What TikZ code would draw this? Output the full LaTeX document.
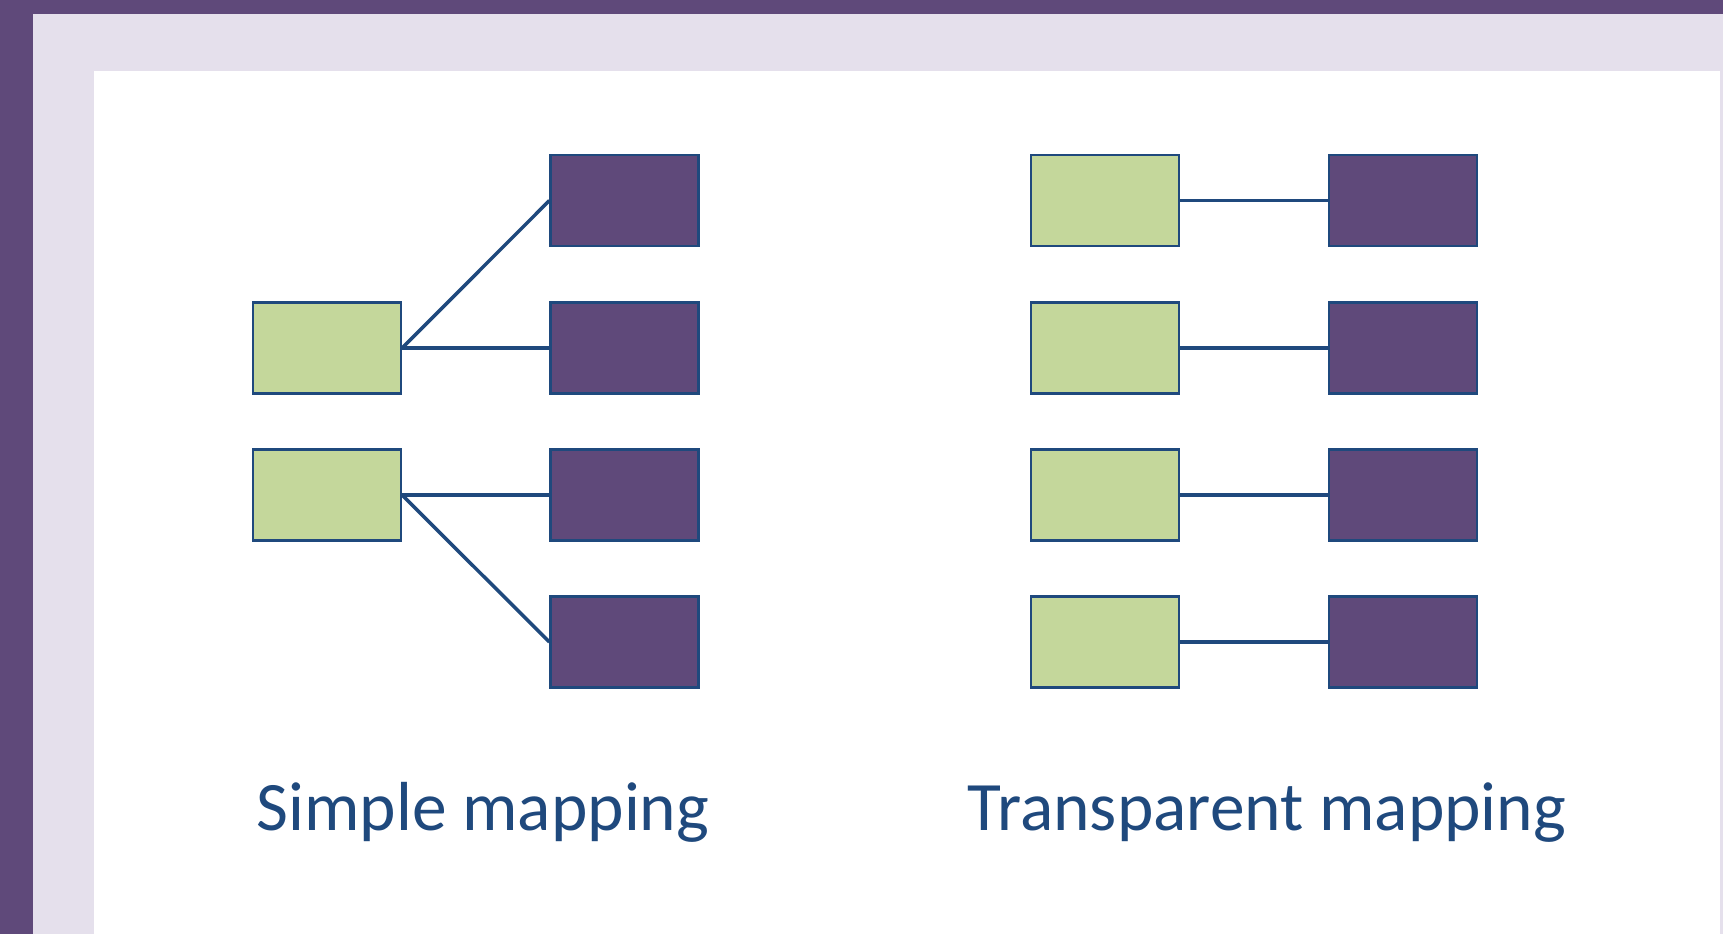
\documentclass[tikz,border=0pt]{standalone}
\usepackage{fontspec}
\setmainfont{Carlito}
\usepackage{xcolor}
\usepackage{tikz}
\usetikzlibrary{positioning}
\definecolor{framepurple}{RGB}{95, 73, 122}
\definecolor{framelilac}{RGB}{229, 224, 236}
\definecolor{srcgreen}{RGB}{196, 215, 155}
\definecolor{linkblue}{RGB}{31, 73, 125}

\begin{document}
\begin{tikzpicture}[x=0.02cm, y=-0.02cm,
    srcbox/.style={rectangle, draw=linkblue, line width=1.2pt, fill=srcgreen, minimum width=2.96cm, minimum height=1.82cm, inner sep=0pt},
    dstbox/.style={rectangle, draw=linkblue, line width=1.2pt, fill=framepurple, minimum width=2.96cm, minimum height=1.82cm, inner sep=0pt},
    link/.style={draw=linkblue, line width=2pt},
    caption/.style={anchor=base, text=linkblue, font=\fontsize{39.5}{47}\selectfont}]
    % frame
    \fill[framepurple] (0,0) rectangle (1723,934);
    \fill[framelilac] (33,14) rectangle (1723,934);
    \fill[white] (94,71) rectangle (1720,934);
    \useasboundingbox (0,0) rectangle (1723,934);

    % simple mapping
    \node [srcbox] (s2) at (327,348) {};
    \node [srcbox] (s3) at (327,495) {};
    \node [dstbox] (d1) at (624.5,200.5) {};
    \node [dstbox] (d2) at (624.5,348) {};
    \node [dstbox] (d3) at (624.5,495) {};
    \node [dstbox] (d4) at (624.5,642) {};
    \draw [link] (s2.east) -- (d1.west);
    \draw [link] (s2.east) -- (d2.west);
    \draw [link] (s3.east) -- (d3.west);
    \draw [link] (s3.east) -- (d4.west);
    \node [caption] (simple) at (483,830) {Simple mapping};

    % transparent mapping
    \foreach \i/\y in {1/200.5, 2/348, 3/495, 4/642} {
        \node [srcbox] (ts\i) at (1105,\y) {};
        \node [dstbox] (td\i) at (1403,\y) {};
        \draw [link] (ts\i.east) -- (td\i.west);
    }
    \node [caption] (transparent) at (1267,830) {Transparent mapping};
\end{tikzpicture}
\end{document}
